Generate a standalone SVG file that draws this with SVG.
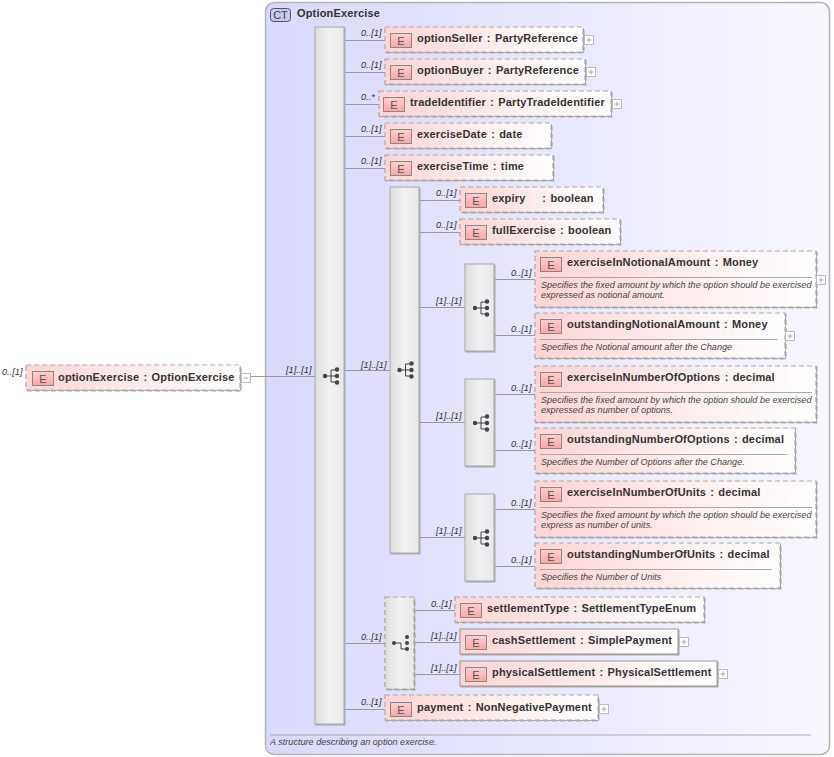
<svg xmlns="http://www.w3.org/2000/svg" xmlns:xlink="http://www.w3.org/1999/xlink" width="834" height="757" viewBox="0 0 834 757">
<style>
text{font-family:"Liberation Sans",Arial,sans-serif;fill:#333}
.n{font-size:11px;font-weight:bold;letter-spacing:.17px;word-spacing:1px}
.d{font-size:9.1px;font-style:italic;fill:#444}
.m{font-size:9.2px;font-style:italic;fill:#333}
.e{fill:url(#el);stroke:#aaa;stroke-width:1.2;stroke-dasharray:5 3;filter:url(#sh);transform:translate(-.5px,-.5px)}
.s{fill:url(#el);stroke:#999;stroke-width:1;filter:url(#sh);transform:translate(-.5px,-.5px)}
.b{fill:url(#bar);stroke:#aaa;stroke-width:1;filter:url(#sh);transform:translate(-.5px,-.5px)}
.bd{fill:url(#bar);stroke:#aaa;stroke-width:1.2;stroke-dasharray:5 3;filter:url(#sh);transform:translate(-.5px,-.5px)}
.c{transform:translate(0,.5px)}
.c line,.c path{stroke:#999;stroke-width:1;fill:none}
.sep{stroke:#aaa;stroke-width:1}
.et{font-size:11px;text-anchor:middle;fill:#555}
</style>
<defs>
<linearGradient id="el"><stop offset="0" stop-color="#ffd4d4"/><stop offset=".7" stop-color="#fff4f4"/><stop offset="1" stop-color="#fff"/></linearGradient>
<linearGradient id="ct"><stop offset="0" stop-color="#d9d9fc"/><stop offset="1" stop-color="#f7f7ff"/></linearGradient>
<linearGradient id="bar"><stop offset="0" stop-color="#dedede"/><stop offset=".5" stop-color="#f1f1f1"/><stop offset="1" stop-color="#e8e8e8"/></linearGradient>
<linearGradient id="eb" x2="0" y2="1"><stop offset="0" stop-color="#ffd0d0"/><stop offset="1" stop-color="#ffa4a4"/></linearGradient>
<filter id="sh" x="-5%" y="-5%" width="110%" height="110%"><feDropShadow dx="1" dy="1" stdDeviation=".6" flood-color="#aaa"/></filter>
<g id="E"><rect width="21" height="14" fill="url(#eb)" stroke="#888"/><text class="et" x="10.5" y="11">E</text></g>
<g id="plus"><rect width="9" height="9" fill="#fff" stroke="#bbb"/><path d="M2 4.5h5M4.500 2v5" stroke="#aaa"/></g>
<g id="seq" fill="#444"><path d="M0 0H6M6-6V6M6-6H12M6 0H12M6 6H12" stroke="#444" fill="none"/><circle r="2.200"/><circle cx="12" cy="-6.500" r="2.200"/><circle cx="12" cy="0" r="2.200"/><circle cx="12" cy="6.500" r="2.200"/></g>
<g id="cho" fill="#444"><path d="M0 0H7V6H12" stroke="#444" fill="none"/><circle r="2"/><circle cx="13" cy="-6" r="2"/><circle cx="13" cy="0" r="2"/><circle cx="13" cy="6" r="2"/></g>
</defs>

<g id="ct-OptionExercise">
<rect x="265.500" y="2.500" width="564" height="752" rx="9" fill="url(#ct)" stroke="#b4b4b4" stroke-width="1.500"/>
<rect x="270.500" y="8.500" width="20" height="13" rx="3" fill="#c8c8f6" stroke="#555"/>
<text x="280.500" y="19" font-size="11" text-anchor="middle" style="fill:#445">CT</text>
<text class="n" x="297" y="17">OptionExercise</text>
<line class="sep" x1="270" y1="735" x2="811" y2="735"/>
<text class="d" x="270" y="745">A structure describing an option exercise.</text>
</g>

<g id="connectors" class="c">
<line x1="250" y1="376" x2="315" y2="376"/>
<line x1="345" y1="40" x2="385" y2="40"/>
<line x1="345" y1="72" x2="385" y2="72"/>
<line x1="345" y1="104" x2="379" y2="104"/>
<line x1="345" y1="136" x2="385" y2="136"/>
<line x1="345" y1="168" x2="385" y2="168"/>
<line x1="345" y1="370" x2="390" y2="370"/>
<line x1="345" y1="643" x2="385" y2="643"/>
<line x1="345" y1="709" x2="385" y2="709"/>
<line x1="420" y1="200" x2="460" y2="200"/>
<line x1="420" y1="232" x2="460" y2="232"/>
<line x1="420" y1="307" x2="465" y2="307"/>
<line x1="420" y1="422" x2="465" y2="422"/>
<line x1="420" y1="537" x2="465" y2="537"/>
<line x1="495" y1="279" x2="535" y2="279"/>
<line x1="495" y1="335" x2="535" y2="335"/>
<line x1="495" y1="394" x2="535" y2="394"/>
<line x1="495" y1="450" x2="535" y2="450"/>
<line x1="495" y1="509" x2="535" y2="509"/>
<line x1="495" y1="566" x2="535" y2="566"/>
<line x1="415" y1="610" x2="455" y2="610"/>
<line x1="415" y1="642" x2="460" y2="642"/>
<line x1="415" y1="674" x2="460" y2="674"/>
</g>

<g id="multiplicities">
<text class="m" x="2" y="375">0..[1]</text>
<text class="m" x="286" y="373">[1]..[1]</text>
<text class="m" x="361" y="36">0..[1]</text>
<text class="m" x="361" y="68">0..[1]</text>
<text class="m" x="361" y="100">0..*</text>
<text class="m" x="361" y="132">0..[1]</text>
<text class="m" x="361" y="164">0..[1]</text>
<text class="m" x="361" y="368">[1]..[1]</text>
<text class="m" x="361" y="640">0..[1]</text>
<text class="m" x="361" y="705">0..[1]</text>
<text class="m" x="436" y="196">0..[1]</text>
<text class="m" x="436" y="228">0..[1]</text>
<text class="m" x="436" y="304">[1]..[1]</text>
<text class="m" x="436" y="419">[1]..[1]</text>
<text class="m" x="436" y="534">[1]..[1]</text>
<text class="m" x="511" y="276">0..[1]</text>
<text class="m" x="511" y="332">0..[1]</text>
<text class="m" x="511" y="391">0..[1]</text>
<text class="m" x="511" y="447">0..[1]</text>
<text class="m" x="511" y="506">0..[1]</text>
<text class="m" x="511" y="563">0..[1]</text>
<text class="m" x="431" y="607">0..[1]</text>
<text class="m" x="431" y="639">[1]..[1]</text>
<text class="m" x="431" y="671">[1]..[1]</text>
</g>

<g id="seq-main"><rect class="b" x="315.500" y="27.500" width="29" height="697"/><use href="#seq" x="325" y="376"/></g>
<g id="seq-inner"><rect class="b" x="390.500" y="187.500" width="29" height="366"/><use href="#seq" x="399.500" y="370"/></g>
<g id="seq-notional"><rect class="b" x="465.500" y="264.500" width="29" height="87"/><use href="#seq" x="475" y="308"/></g>
<g id="seq-options"><rect class="b" x="465.500" y="379.500" width="29" height="87"/><use href="#seq" x="475" y="423"/></g>
<g id="seq-units"><rect class="b" x="465.500" y="494.500" width="29" height="87"/><use href="#seq" x="475" y="538"/></g>
<g id="choice-settlement"><rect class="bd" x="385.500" y="597.500" width="29" height="92"/><use href="#cho" x="394" y="643"/></g>

<g id="optionExercise"><rect class="e" x="26.500" y="365.500" width="214" height="25"/><use href="#E" x="32.500" y="371.500"/><text class="n" x="58" y="381">optionExercise : OptionExercise</text>
<rect x="241.500" y="373.500" width="9" height="9" fill="#fff" stroke="#bbb"/><path d="M243.500 378h5" stroke="#aaa"/></g>
<g id="optionSeller"><rect class="e" x="385.500" y="27.500" width="198" height="25"/><use href="#E" x="390.500" y="33.500"/><text class="n" x="417" y="42">optionSeller : PartyReference</text><use href="#plus" x="584.500" y="35.500"/></g>
<g id="optionBuyer"><rect class="e" x="385.500" y="59.500" width="200" height="25"/><use href="#E" x="390.500" y="65.500"/><text class="n" x="417" y="74">optionBuyer : PartyReference</text><use href="#plus" x="586.500" y="67.500"/></g>
<g id="tradeIdentifier"><rect class="e" x="379.500" y="91.500" width="232" height="25"/><use href="#E" x="383.500" y="97.500"/><text class="n" x="410" y="106">tradeIdentifier : PartyTradeIdentifier</text><use href="#plus" x="612.500" y="99.500"/></g>
<g id="exerciseDate"><rect class="e" x="385.500" y="123.500" width="166" height="25"/><use href="#E" x="390.500" y="129.500"/><text class="n" x="417" y="138">exerciseDate : date</text></g>
<g id="exerciseTime"><rect class="e" x="385.500" y="155.500" width="168" height="25"/><use href="#E" x="390.500" y="161.500"/><text class="n" x="417" y="170">exerciseTime : time</text></g>
<g id="expiry"><rect class="e" x="460.500" y="187.500" width="143" height="25"/><use href="#E" x="465.500" y="193.500"/><text class="n" x="492" y="202" xml:space="preserve">expiry    : boolean</text></g>
<g id="fullExercise"><rect class="e" x="460.500" y="219.500" width="160" height="25"/><use href="#E" x="465.500" y="225.500"/><text class="n" x="492" y="234">fullExercise : boolean</text></g>

<g id="exerciseInNotionalAmount"><rect class="e" x="535.500" y="251.500" width="281" height="56"/><use href="#E" x="540.500" y="257.500"/><text class="n" x="567" y="266">exerciseInNotionalAmount : Money</text><line class="sep" x1="540" y1="277.500" x2="812" y2="277.500"/><text class="d" x="541" y="288">Specifies the fixed amount by which the option should be exercised</text><text class="d" x="541" y="298">expressed as notional amount.</text><use href="#plus" x="816.500" y="275.500"/></g>
<g id="outstandingNotionalAmount"><rect class="e" x="535.500" y="313.500" width="250" height="45"/><use href="#E" x="540.500" y="319.500"/><text class="n" x="567" y="328">outstandingNotionalAmount : Money</text><line class="sep" x1="540" y1="339.500" x2="777" y2="339.500"/><text class="d" x="541" y="350">Specifies the Notional amount after the Change</text><use href="#plus" x="785.500" y="331.500"/></g>
<g id="exerciseInNumberOfOptions"><rect class="e" x="535.500" y="366.500" width="281" height="56"/><use href="#E" x="540.500" y="372.500"/><text class="n" x="567" y="381">exerciseInNumberOfOptions : decimal</text><line class="sep" x1="540" y1="392.500" x2="812" y2="392.500"/><text class="d" x="541" y="403">Specifies the fixed amount by which the option should be exercised</text><text class="d" x="541" y="413">expressed as number of options.</text></g>
<g id="outstandingNumberOfOptions"><rect class="e" x="535.500" y="428.500" width="260" height="45"/><use href="#E" x="540.500" y="434.500"/><text class="n" x="567" y="443">outstandingNumberOfOptions : decimal</text><line class="sep" x1="540" y1="454.500" x2="787" y2="454.500"/><text class="d" x="541" y="465">Specifies the Number of Options after the Change.</text></g>
<g id="exerciseInNumberOfUnits"><rect class="e" x="535.500" y="481.500" width="281" height="56"/><use href="#E" x="540.500" y="487.500"/><text class="n" x="567" y="496">exerciseInNumberOfUnits : decimal</text><line class="sep" x1="540" y1="507.500" x2="812" y2="507.500"/><text class="d" x="541" y="518">Specifies the fixed amount by which the option should be exercised</text><text class="d" x="541" y="528">express as number of units.</text></g>
<g id="outstandingNumberOfUnits"><rect class="e" x="535.500" y="543.500" width="245" height="45"/><use href="#E" x="540.500" y="549.500"/><text class="n" x="567" y="558">outstandingNumberOfUnits : decimal</text><line class="sep" x1="540" y1="569.500" x2="772" y2="569.500"/><text class="d" x="541" y="580">Specifies the Number of Units</text></g>

<g id="settlementType"><rect class="e" x="455.500" y="597.500" width="249" height="25"/><use href="#E" x="460.500" y="603.500"/><text class="n" x="487" y="612">settlementType : SettlementTypeEnum</text></g>
<g id="cashSettlement"><rect class="s" x="460.500" y="629.500" width="218" height="25"/><use href="#E" x="465.500" y="635.500"/><text class="n" x="492" y="644">cashSettlement : SimplePayment</text><use href="#plus" x="679.500" y="637.500"/></g>
<g id="physicalSettlement"><rect class="s" x="460.500" y="661.500" width="257" height="25"/><use href="#E" x="465.500" y="667.500"/><text class="n" x="492" y="676">physicalSettlement : PhysicalSettlement</text><use href="#plus" x="718.500" y="669.500"/></g>
<g id="payment"><rect class="e" x="385.500" y="695.500" width="213" height="25"/><use href="#E" x="390.500" y="702.500"/><text class="n" x="417" y="711">payment : NonNegativePayment</text><use href="#plus" x="599.500" y="704.500"/></g>
</svg>
